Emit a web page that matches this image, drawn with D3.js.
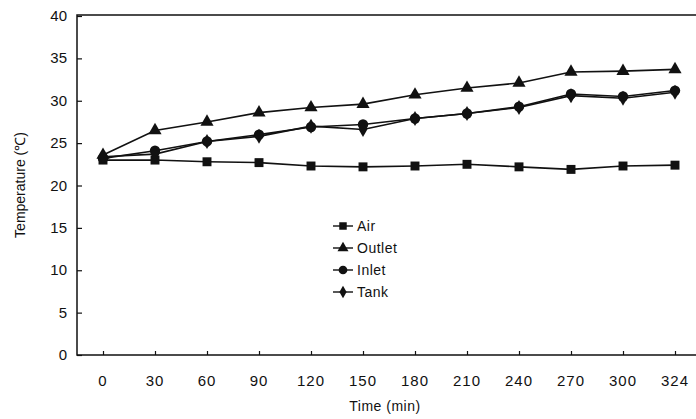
<!DOCTYPE html>
<html>
<head>
<meta charset="utf-8">
<script src="https://cdn.jsdelivr.net/npm/d3@7"></script>
<style>
  body { margin: 0; background: #fff; }
  text { font-family: "Liberation Sans", Arial, sans-serif; fill: #111; }
</style>
</head>
<body>
<svg width="696" height="419"></svg>
<script>
const times = [0, 30, 60, 90, 120, 150, 180, 210, 240, 270, 300, 324];
const air    = [23.0, 23.0, 22.8, 22.7, 22.3, 22.2, 22.3, 22.5, 22.2, 21.9, 22.3, 22.4];
const outlet = [23.6, 26.5, 27.5, 28.6, 29.2, 29.6, 30.7, 31.5, 32.1, 33.4, 33.5, 33.7];
const inlet  = [23.2, 24.1, 25.2, 26.0, 26.9, 27.2, 27.9, 28.5, 29.3, 30.8, 30.5, 31.2];
const tank   = [23.4, 23.7, 25.2, 25.8, 27.0, 26.6, 27.9, 28.5, 29.2, 30.6, 30.3, 31.0];
const yTicks = [0, 5, 10, 15, 20, 25, 30, 35, 40];

const series = [
  { name: 'Air', values: air, symbol: d3.symbolSquare, size: 80 },
  { name: 'Outlet', values: outlet, symbol: d3.symbolTriangle, size: 75 },
  { name: 'Inlet', values: inlet, symbol: d3.symbolCircle, size: 85 },
  { name: 'Tank', values: tank, symbol: d3.symbolDiamond, size: 65 }
];

const svg = d3.select('svg');
const plotL = 77, plotT = 15, plotB = 355, plotR = 696;

const x = d3.scalePoint().domain(times).range([103, 675]);
const y = d3.scaleLinear().domain([0, 40]).range([355, 16]);

// frame
svg.append('path')
  .attr('d', `M${plotR},${plotT}H${plotL}V${plotB}H${plotR}`)
  .attr('fill', 'none').attr('stroke', '#111').attr('stroke-width', 1.5);

// y axis, ticks inward
const yAxis = svg.append('g')
  .attr('transform', `translate(${plotL},0)`)
  .call(d3.axisRight(y).tickValues(yTicks).tickSize(5).tickFormat(''));
yAxis.select('.domain').remove();
yAxis.selectAll('line').attr('stroke', '#111').attr('stroke-width', 1.2);
svg.append('g').selectAll('text').data(yTicks).enter().append('text')
  .attr('x', 67).attr('y', d => y(d) + 5)
  .attr('text-anchor', 'end').attr('font-size', 15)
  .text(d => d);

// x axis, ticks inward
const xAxis = svg.append('g')
  .attr('transform', `translate(0,${plotB})`)
  .call(d3.axisTop(x).tickSize(4).tickFormat(''));
xAxis.select('.domain').remove();
xAxis.selectAll('line').attr('stroke', '#111').attr('stroke-width', 1.2);
svg.append('g').selectAll('text').data(times).enter().append('text')
  .attr('x', d => x(d)).attr('y', 386)
  .attr('text-anchor', 'middle').attr('font-size', 15)
  .attr('letter-spacing', 1)
  .text(d => d);

// axis titles
svg.append('text')
  .attr('x', 385).attr('y', 411)
  .attr('text-anchor', 'middle').attr('font-size', 14)
  .attr('letter-spacing', 0.5)
  .text('Time (min)');
svg.append('text')
  .attr('transform', 'translate(25,185) rotate(-90)')
  .attr('text-anchor', 'middle').attr('font-size', 14)
  .text('Temperature (℃)');

// lines and markers
const line = d3.line().x((d, i) => x(times[i])).y(d => y(d));
series.forEach(s => {
  svg.append('path')
    .datum(s.values)
    .attr('d', line)
    .attr('fill', 'none').attr('stroke', '#111').attr('stroke-width', 1.6);
  svg.append('g').selectAll('path').data(s.values).enter().append('path')
    .attr('transform', (d, i) => `translate(${x(times[i])},${y(d)})`)
    .attr('d', d3.symbol().type(s.symbol).size(s.size))
    .attr('fill', '#111');
});

// legend
const legend = svg.append('g').attr('transform', 'translate(333,226)');
series.forEach((s, i) => {
  const g = legend.append('g').attr('transform', `translate(0,${i * 22})`);
  g.append('line').attr('x1', 0).attr('x2', 20).attr('y1', 0).attr('y2', 0)
    .attr('stroke', '#111').attr('stroke-width', 1.4);
  g.append('path').attr('transform', 'translate(10,0)')
    .attr('d', d3.symbol().type(s.symbol).size(s.size * 0.7))
    .attr('fill', '#111');
  g.append('text').attr('x', 24).attr('y', 5)
    .attr('font-size', 14).attr('letter-spacing', 0.5)
    .text(s.name);
});
</script>
</body>
</html>
